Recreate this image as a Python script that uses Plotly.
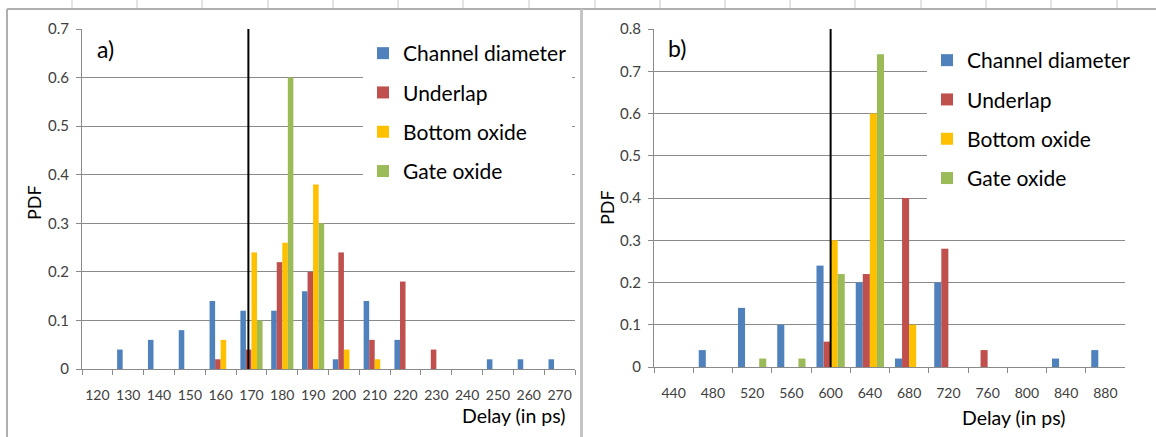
import plotly.graph_objects as go

# ---------------- data ----------------
series_names = ["Channel diameter", "Underlap", "Bottom oxide", "Gate oxide"]
series_colors = ["#4F81BD", "#C0504D", "#FFC000", "#9BBB59"]

# Panel a)
delay_a = ["120", "130", "140", "150", "160", "170", "180", "190",
           "200", "210", "220", "230", "240", "250", "260", "270"]
channel_a = [0, 0.04, 0.06, 0.08, 0.14, 0.12, 0.12, 0.16, 0.02, 0.14, 0.06, 0, 0, 0.02, 0.02, 0.02]
underlap_a = [0, 0, 0, 0, 0.02, 0.04, 0.22, 0.20, 0.24, 0.06, 0.18, 0.04, 0, 0, 0, 0]
bottom_a = [0, 0, 0, 0, 0.06, 0.24, 0.26, 0.38, 0.04, 0.02, 0, 0, 0, 0, 0, 0]
gate_a = [0, 0, 0, 0, 0, 0.10, 0.60, 0.30, 0, 0, 0, 0, 0, 0, 0, 0]
nominal_a = 169  # ps, vertical reference line

# Panel b)
delay_b = ["440", "480", "520", "560", "600", "640", "680", "720", "760", "800", "840", "880"]
channel_b = [0, 0.04, 0.14, 0.10, 0.24, 0.20, 0.02, 0.20, 0, 0, 0.02, 0.04]
underlap_b = [0, 0, 0, 0, 0.06, 0.22, 0.40, 0.28, 0.04, 0, 0, 0]
bottom_b = [0, 0, 0, 0, 0.30, 0.60, 0.10, 0, 0, 0, 0, 0]
gate_b = [0, 0, 0.02, 0.02, 0.22, 0.74, 0, 0, 0, 0, 0, 0]
nominal_b = 600  # ps

values_a = [channel_a, underlap_a, bottom_a, gate_a]
values_b = [channel_b, underlap_b, bottom_b, gate_b]

# ---------------- figure ----------------
W, H = 1156, 437
FONT = "Lato"
GRID = "#8a8a8a"
TXT = "#404040"

fig = go.Figure()

for name, color, ya in zip(series_names, series_colors, values_a):
    fig.add_trace(go.Bar(x=delay_a, y=ya, name=name, marker_color=color,
                         marker_line_width=0, xaxis="x", yaxis="y",
                         legend="legend", legendgroup="a_" + name))
for name, color, yb in zip(series_names, series_colors, values_b):
    fig.add_trace(go.Bar(x=delay_b, y=yb, name=name, marker_color=color,
                         marker_line_width=0, xaxis="x2", yaxis="y2",
                         legend="legend2", legendgroup="b_" + name))


def px_x(p):
    return p / W


def px_y(p):
    return (H - p) / H


def cat_index(val, cats):
    first = float(cats[0])
    step = float(cats[1]) - first
    return (val - first) / step


xcommon = dict(type="category", tickson="boundaries", ticks="outside", ticklen=5,
               tickcolor=GRID, showline=True, linecolor=GRID, linewidth=1,
               showgrid=False, zeroline=False, ticklabelstandoff=13, tickangle=0,
               automargin=False,
               tickfont=dict(family=FONT, size=14, color=TXT))
ycommon = dict(showgrid=True, gridcolor=GRID, gridwidth=1, showline=True,
               linecolor=GRID, linewidth=1, ticks="outside", ticklen=5,
               tickcolor=GRID, zeroline=False, dtick=0.1, ticklabelstandoff=4,
               automargin=False,
               tickfont=dict(family=FONT, size=15, color=TXT))

legend_common = dict(xanchor="left", yanchor="top", bgcolor="white",
                     traceorder="grouped", tracegroupgap=9, itemwidth=30,
                     font=dict(family=FONT, size=21, color="#000000"))

fig.update_layout(
    width=W, height=H,
    margin=dict(l=0, r=0, t=0, b=0, autoexpand=False),
    paper_bgcolor="white", plot_bgcolor="white",
    barmode="group", bargap=0.28, bargroupgap=0,
    font=dict(family=FONT, color=TXT),
    xaxis=dict(domain=[px_x(82), px_x(575)], anchor="y",
               range=[-0.5, len(delay_a) - 0.5], **xcommon),
    yaxis=dict(domain=[px_y(369), px_y(29)], anchor="x", range=[0, 0.7], **ycommon),
    xaxis2=dict(domain=[px_x(654), px_x(1125)], anchor="y2",
                range=[-0.5, len(delay_b) - 0.5], **xcommon),
    yaxis2=dict(domain=[px_y(367), px_y(29)], anchor="x2", range=[0, 0.8], **ycommon),
    legend=dict(x=px_x(363), y=px_y(33), **legend_common),
    legend2=dict(x=px_x(927), y=px_y(40), **legend_common),
    showlegend=True,
)

# Nominal-delay reference lines
fig.add_shape(type="line", xref="x", yref="y",
              x0=cat_index(nominal_a, delay_a), x1=cat_index(nominal_a, delay_a),
              y0=0, y1=0.7, line=dict(color="black", width=2))
fig.add_shape(type="line", xref="x2", yref="y2",
              x0=cat_index(nominal_b, delay_b), x1=cat_index(nominal_b, delay_b),
              y0=0, y1=0.8, line=dict(color="black", width=2))

# Axis titles, panel labels
title_font = dict(family=FONT, size=18, color="#000000")
fig.add_annotation(text="PDF", xref="paper", yref="paper", x=px_x(34), y=px_y(203),
                   xanchor="center", yanchor="middle",
                   textangle=-90, showarrow=False, font=title_font)
fig.add_annotation(text="PDF", xref="paper", yref="paper", x=px_x(607), y=px_y(208),
                   xanchor="center", yanchor="middle",
                   textangle=-90, showarrow=False, font=title_font)
fig.add_annotation(text="a)", xref="paper", yref="paper", x=px_x(95), y=px_y(49),
                   xanchor="left", yanchor="middle", showarrow=False,
                   font=dict(family=FONT, size=23, color="#000000"))
fig.add_annotation(text="b)", xref="paper", yref="paper", x=px_x(666), y=px_y(48),
                   xanchor="left", yanchor="middle", showarrow=False,
                   font=dict(family=FONT, size=23, color="#000000"))
fig.add_annotation(text="Delay (in ps)", xref="paper", yref="paper", x=px_x(568), y=px_y(415),
                   xanchor="right", yanchor="middle", showarrow=False,
                   font=dict(family=FONT, size=19.5, color="#000000"))
fig.add_annotation(text="Delay (in ps)", xref="paper", yref="paper", x=px_x(1068), y=px_y(417),
                   xanchor="right", yanchor="middle", showarrow=False,
                   font=dict(family=FONT, size=19.5, color="#000000"))

# Sheet frame (top border, left border, divider between the two charts)
frame = "#b0b0b0"
fig.add_shape(type="line", xref="paper", yref="paper", x0=px_x(7), x1=1,
              y0=px_y(9), y1=px_y(9), line=dict(color=frame, width=2), layer="below")
fig.add_shape(type="line", xref="paper", yref="paper", x0=px_x(7), x1=px_x(7),
              y0=0, y1=px_y(9), line=dict(color=frame, width=2), layer="below")
fig.add_shape(type="line", xref="paper", yref="paper", x0=px_x(581.5), x1=px_x(581.5),
              y0=0, y1=px_y(9), line=dict(color="#c4c4c4", width=3), layer="below")
# spreadsheet column separators peeking above the charts
sheet_cols = [72, 137, 202, 268, 333, 398, 463, 529, 595, 660, 725, 790, 855, 921, 986, 1051, 1117]
for cx in sheet_cols:
    fig.add_shape(type="line", xref="paper", yref="paper", x0=px_x(cx), x1=px_x(cx),
                  y0=px_y(8), y1=1, line=dict(color="#c8c8c8", width=1), layer="below")

fig.write_html(
    "out.html",
    config={"displayModeBar": False},
    post_script="document.body.style.margin='0';document.body.style.overflow='hidden';",
)
